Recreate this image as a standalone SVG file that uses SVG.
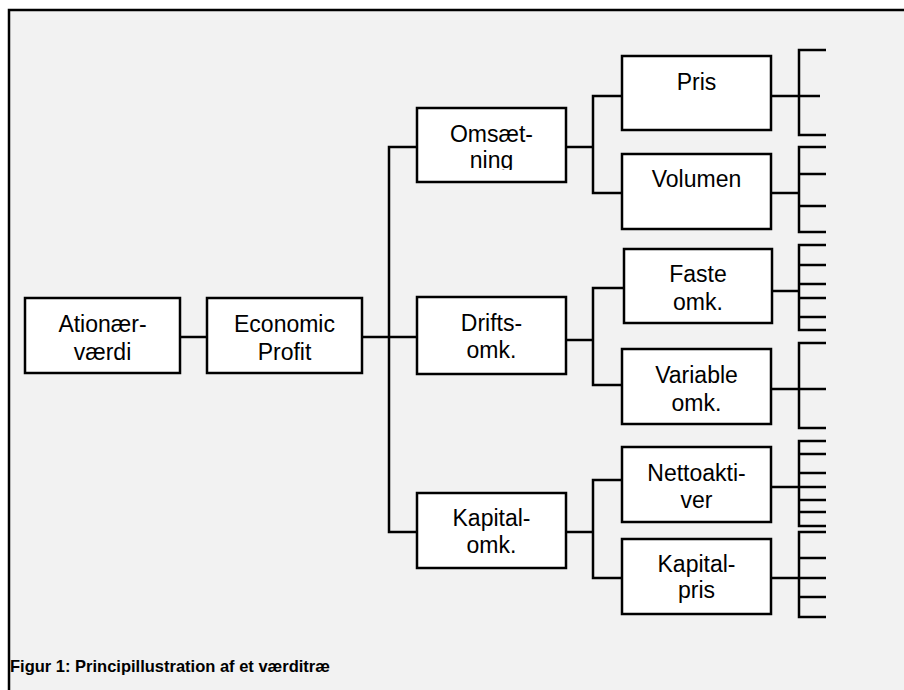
<svg xmlns="http://www.w3.org/2000/svg" width="904" height="690" viewBox="0 0 904 690">
<style>
.box{fill:#ffffff;stroke:#000;stroke-width:2.5}
.lbl{font-family:"Liberation Sans",Arial,sans-serif;font-size:23px;fill:#000;text-anchor:middle}
.con{fill:none;stroke:#000;stroke-width:2.5}
.cap{font-family:"Liberation Sans",Arial,sans-serif;font-size:16.5px;font-weight:bold;fill:#000}
</style>
<defs>
<clipPath id="clipOms"><rect x="417" y="108" width="149" height="62"/></clipPath>
</defs>
<rect x="0" y="0" width="904" height="690" fill="#ffffff"/>
<rect x="9" y="10" width="920" height="700" fill="#f2f2f2" stroke="#000" stroke-width="2.5"/>
<g id="connectors" class="con">
<path d="M180,337H207"/>
<path d="M362,337H417"/>
<path d="M417,147H389V532H417"/>
<path d="M566,147H593"/>
<path d="M622,96H593V193H622"/>
<path d="M566,340H593"/>
<path d="M624,288H593V385H622"/>
<path d="M566,532H593"/>
<path d="M622,480H593V578H622"/>
<path d="M771,96H820"/>
<path d="M826,50H799V135H826"/>
<path d="M771,193H799"/>
<path d="M826,147H799V232H826M799,174H826M799,206H826"/>
<path d="M772,291H799"/>
<path d="M826,245H799V330H826M799,265H826M799,284H826M799,298H826M799,317H826"/>
<path d="M771,389H826"/>
<path d="M826,343H799V428H826"/>
<path d="M771,487H826"/>
<path d="M826,441H799V526H826M799,454H826M799,473H826M799,500H826M799,512H826"/>
<path d="M771,578H826"/>
<path d="M826,532H799V617H826M799,558H826M799,597H826"/>
</g>
<g id="node-aktionaervaerdi">
<rect class="box" x="25" y="298" width="155" height="75"/>
<text class="lbl" x="102.5" y="331.5">Ationær-</text>
<text class="lbl" x="102.5" y="360">værdi</text>
</g>
<g id="node-economic-profit">
<rect class="box" x="207" y="298" width="155" height="75"/>
<text class="lbl" x="284.5" y="331.5">Economic</text>
<text class="lbl" x="284.5" y="360">Profit</text>
</g>
<g id="node-omsaetning">
<rect class="box" x="417" y="108" width="149" height="74"/>
<text class="lbl" x="491.5" y="141.5">Omsæt-</text>
<text class="lbl" x="491.5" y="168" clip-path="url(#clipOms)">ning</text>
</g>
<g id="node-driftsomk">
<rect class="box" x="417" y="297" width="149" height="77"/>
<text class="lbl" x="491.5" y="330.5">Drifts-</text>
<text class="lbl" x="491.5" y="358">omk.</text>
</g>
<g id="node-kapitalomk">
<rect class="box" x="417" y="493" width="149" height="75"/>
<text class="lbl" x="491.5" y="525.5">Kapital-</text>
<text class="lbl" x="491.5" y="553">omk.</text>
</g>
<g id="node-pris">
<rect class="box" x="622" y="56" width="149" height="74"/>
<text class="lbl" x="696.5" y="90">Pris</text>
</g>
<g id="node-volumen">
<rect class="box" x="622" y="154" width="149" height="75"/>
<text class="lbl" x="696.5" y="187">Volumen</text>
</g>
<g id="node-faste-omk">
<rect class="box" x="624" y="249" width="148" height="74"/>
<text class="lbl" x="698" y="281.5">Faste</text>
<text class="lbl" x="698" y="310">omk.</text>
</g>
<g id="node-variable-omk">
<rect class="box" x="622" y="349" width="149" height="75"/>
<text class="lbl" x="696.5" y="382.5">Variable</text>
<text class="lbl" x="696.5" y="411">omk.</text>
</g>
<g id="node-nettoaktiver">
<rect class="box" x="622" y="447" width="149" height="75"/>
<text class="lbl" x="696.5" y="480.5">Nettoakti-</text>
<text class="lbl" x="696.5" y="508">ver</text>
</g>
<g id="node-kapitalpris">
<rect class="box" x="622" y="539" width="149" height="75"/>
<text class="lbl" x="696.5" y="571.5">Kapital-</text>
<text class="lbl" x="696.5" y="598">pris</text>
</g>
<text class="cap" x="10" y="672">Figur 1: Principillustration af et værditræ</text>
</svg>
